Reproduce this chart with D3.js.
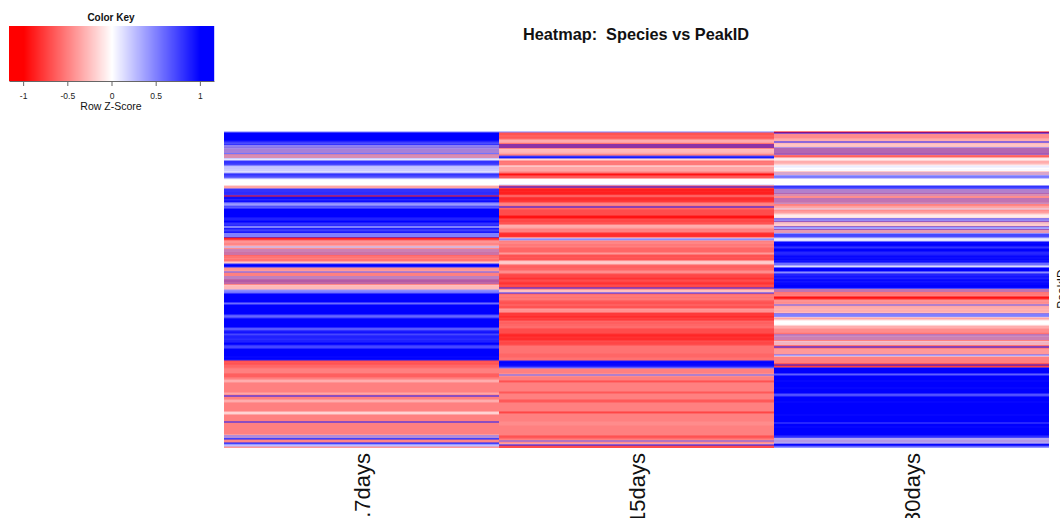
<!DOCTYPE html>
<html>
<head>
<meta charset="utf-8">
<script src="https://cdnjs.cloudflare.com/ajax/libs/d3/7.8.5/d3.min.js"></script>
<style>
html, body { margin: 0; padding: 0; background: #fff; overflow: hidden; }
text { font-family: "Liberation Sans", Arial, sans-serif; fill: #111; }
</style>
</head>
<body>
<div id="chart"></div>
<script>
const samples = [".7days", "15days", "30days"];
const keyTicks = [-1, -0.5, 0, 0.5, 1];

// row z-scores, one line per 20 rows, top to bottom
const days7 = [
.5,1,1,1,1,1,1,1,1,.9,.8,.7,.7,.9,-.1,.9,-.2,.7,-.3,.7,
-.3,.7,.4,-.6,.3,-.6,.3,.1,.1,.8,.8,.8,.75,.7,.3,.2,.25,.2,.2,.2,
.05,.4,.8,.8,.7,.7,.5,.1,0,0,0,0,0,0,-.3,-.4,-.3,.8,.8,.8,
.8,.85,.8,.8,-.9,.9,1,.9,.8,1,.9,.4,.5,.3,.7,.7,.6,1,1,1,
1,1,1,1,1,1,.85,.9,.85,1,1,.8,.8,.8,.9,.1,.9,.9,.7,.8,
.9,.9,.1,.9,.1,.9,-.8,-.9,-.6,-.45,-.4,-.45,-.5,-.45,-.3,.3,-.3,-.6,.4,-.6,
.4,-.7,.4,-.7,-.5,-.6,-.5,-.5,-.6,-.5,-.25,-.2,.8,1,1,.8,-.4,-.45,-.4,-.4,
.6,-.5,-.5,-.5,-.5,.5,-.5,.5,-.7,.6,-.7,.5,-.7,-.25,-.25,-.3,-.25,-.3,.4,.5,
.5,.6,1,1,1,1,1,1,1,1,1,.55,.6,1,1,1,1,1,1,1,
1,1,1,.7,.6,.6,.8,1,1,1,1,1,1,1,1,1,.7,.6,.7,.9,
.9,.95,.7,.75,.9,.85,.9,.8,.85,.9,.85,1,1,.9,.7,.75,.7,1,1,1,
1,1,1,1,1,.95,1,1,.9,-.7,-.65,-.65,-.7,-.6,-.6,-.6,-.55,-.5,-.5,-.5,
-.5,-.5,-.65,-.6,-.65,-.6,-.5,-.5,-.35,-.3,-.35,-.5,-.5,-.5,-.5,-.5,-.5,-.5,-.5,-.5,
-.5,-.35,-.35,-.5,.9,-.5,-.5,-.5,-.35,-.3,-.35,-.5,-.5,-.5,-.5,-.5,-.5,-.5,-.5,-.5,
-.2,-.15,-.2,-.5,-.5,-.5,-.5,-.5,-.5,-.5,.9,-.5,-.5,-.5,-.5,-.5,-.5,-.5,-.5,-.5,
-.5,-.5,-.5,-.3,.6,-.3,.6,.9,-.45,-.5,-.45,.9,.6,.2,.3,-.4
];
const days15 = [
.5,-.65,-.7,-.65,-.6,-.65,-.65,-.55,-.35,-.3,-.35,-.4,-.7,.9,-.7,.9,-.7,-.25,-.25,-.3,
-.25,-.35,-.35,-.6,.6,1,.8,-.15,-.15,-.55,-.55,-.5,-.55,-.5,-.1,-.35,-.35,-.35,-.35,-.35,
-.5,-.55,-.95,-.9,-.65,-.65,-.65,0,0,0,0,0,0,.2,-.7,.9,-.7,-.85,-.9,-.85,
-.85,-.9,-.85,-.75,-.5,-.75,-.8,-.85,-.8,-.8,-.75,-.5,-.5,-.45,-.6,.9,-.6,-.6,-.7,-.7,
-.7,-.7,-.7,-.7,-.9,-.95,-.9,-.7,-.7,-.75,-.7,-.65,-.7,-.35,-.3,-.35,-.35,-.5,-.5,-.5,
-.5,-.8,-.8,-.85,-.8,-.8,-.1,.6,.3,-.5,-.5,-.45,-.5,-.55,-.5,-.5,-.6,-.6,-.6,-.6,
-.6,-.4,-.4,-.65,-.7,-.65,-.65,-.7,-.65,-.25,-.2,-.2,-.25,-.6,-.6,-.65,-.6,-.6,-.6,-.45,
-.45,-.45,-.7,-.7,-.75,-.7,-.8,-.8,-.7,-.7,-.75,-.8,-.8,-.7,-.7,-.75,.8,-.6,-.25,-.25,
-.25,.8,-.6,-.55,-.5,-.55,-.55,-.5,-.55,-.65,-.65,-.7,-.65,-.6,-.65,-.7,-.65,-.4,-.4,-.45,
-.4,-.75,-.8,-.75,-.8,-.85,-.75,-.75,-.8,-.6,-.6,-.65,-.6,-.6,-.6,-.55,-.6,-.7,-.7,-.7,
-.7,-.7,-.8,-.85,-.85,-.8,-.8,-.85,-.8,-.7,-.7,-.75,-.7,-.7,-.55,-.55,-.55,-.55,-.55,-.55,
-.55,-.55,-.6,-.6,-.6,-.6,-.55,-.55,-.55,.9,1,1,.95,1,.9,.8,.5,-.5,-.5,-.5,
-.5,-.5,-.4,.6,-.4,-.5,-.5,-.5,-.5,-.7,-.65,-.5,-.5,-.5,-.5,-.5,-.5,-.5,-.5,-.5,
-.65,-.65,-.5,-.5,-.5,-.5,-.5,-.5,-.65,-.65,-.65,-.5,-.5,-.5,-.5,-.5,-.5,-.5,-.5,-.5,
-.75,-.7,-.5,-.5,-.5,-.5,-.5,-.5,-.5,-.5,-.45,-.45,-.45,-.45,-.5,-.5,-.5,-.5,-.5,-.5,
-.5,-.5,-.5,-.5,-.7,-.65,-.65,-.5,-.5,.6,-.5,-.4,-.35,.9,-.7,-.7
];
const days30 = [
-1,.9,-.45,-.45,-.45,-.45,-.45,-.3,-.35,-.3,.9,-.3,-.25,-.2,-.25,-.25,.6,-.6,.6,-.6,
.6,-.6,.7,-.5,-.65,-.6,-.1,-.1,-.05,-.3,-.35,-.3,-.25,-.1,.05,.1,0,0,.05,0,
-.4,.3,-.4,.3,.5,.55,.45,0,0,0,0,0,0,0,.8,.8,.7,.6,-.4,.6,
-.4,.6,-.6,.3,-.6,-.3,-.6,.5,-.6,.5,-.6,.4,-.5,-.5,-.45,-.3,-.4,.1,-.5,-.4,
-.4,-.35,-.2,-.1,-.05,-.1,-.15,.9,-.1,.8,-.5,.1,-.4,0,-.4,.8,0,.7,-.6,.2,
-.6,.2,.7,.75,.7,.7,.2,.1,.05,.2,1,.95,1,1,.95,.8,.8,1,1,1,
.85,.85,.85,.9,.95,1,.9,1,.95,.9,1,.6,.55,.6,.1,.2,1,1,1,1,
.4,.5,.9,.85,.9,.95,.85,.9,1,.95,.9,1,.95,1,1,1,.95,.5,-.6,.5,
-.6,-.5,-.55,-.5,-.5,-.95,-.9,-.8,-.45,-.4,-.45,-.45,-.4,.6,-.4,-.3,-.35,-.3,-.3,-.35,
-.3,-.25,.8,.2,.8,.1,-.4,-.3,-.15,0,0,0,0,-.05,-.3,-.35,-.3,-.45,-.45,-.45,
-.45,-.5,-.6,.5,-.5,.4,-.6,.4,-.6,-.4,.1,-.5,.1,-.5,-.6,.9,-.6,-.4,-.4,-.4,
-.4,-.4,-.4,.6,.1,-.5,-.5,-.5,-.5,-.5,-.5,-.5,-.8,.8,-.9,-.6,1,1,1,1,
1,1,.6,.65,1,1,1,1,1,.95,1,1,1,1,1,1,.95,1,1,1,
1,1,.7,.65,.75,1,1,1,1,1,.95,1,1,1,1,1,1,1,1,1,
1,1,1,.95,1,1,1,1,1,1,1,.7,1,1,1,.95,1,1,1,1,
1,1,1,1,.8,.85,.6,-.1,.6,-.2,.6,-.1,1,.95,.8,.4
];

const columns = [days7, days15, days30];
const rowIds = d3.range(days7.length);

const svg = d3.select("#chart").append("svg")
    .attr("width", 1060)
    .attr("height", 518)
    .style("display", "block");

const colorScale = d3.scaleLinear()
    .domain([-1, 0, 1])
    .range(["#ff0000", "#ffffff", "#0000ff"])
    .clamp(true);

// HEATMAP
const xScale = d3.scaleBand().domain(samples).range([224, 1049]);
// half pixel offset and a little overlap, so neighbouring rows mix the way the downsampled original does
const yScale = d3.scaleBand().domain(rowIds).range([131, 447]);
const rowOverlap = 0.5;

const heat = svg.append("g").attr("transform", "translate(0,0.5)");

samples.forEach(function(sample, i) {
    heat.append("g").selectAll("rect")
        .data(columns[i])
        .enter()
        .append("rect")
        .attr("x", xScale(sample))
        .attr("y", (d, r) => yScale(r))
        .attr("width", xScale.bandwidth())
        .attr("height", yScale.bandwidth() + rowOverlap)
        .attr("fill", d => colorScale(d));
});

svg.append("g").selectAll("text")
    .data(samples)
    .enter()
    .append("text")
    .attr("transform", d => `translate(${xScale(d) + xScale.bandwidth() / 2 + 8},453) rotate(-90)`)
    .attr("text-anchor", "end")
    .style("font-size", "22px")
    .text(d => d);

// clipped off at the right edge of the picture
svg.append("text")
    .attr("transform", "translate(1066,289) rotate(-90)")
    .attr("text-anchor", "middle")
    .style("font-size", "12px")
    .text("PeakID");

svg.append("text")
    .attr("x", 636)
    .attr("y", 40)
    .attr("text-anchor", "middle")
    .attr("xml:space", "preserve")
    .style("white-space", "pre")
    .style("font-size", "16.3px")
    .style("font-weight", "bold")
    .text("Heatmap:  Species vs PeakID");

// COLOR KEY
const keyScale = d3.scaleLinear().domain([-1.16, 1.16]).range([9, 214]);
const keyValues = d3.range(keyScale.range()[0], keyScale.range()[1]).map(px => keyScale.invert(px));

const key = svg.append("g");

key.append("g").selectAll("rect")
    .data(keyValues)
    .enter()
    .append("rect")
    .attr("x", d => keyScale(d))
    .attr("y", 26)
    .attr("width", 1.2)
    .attr("height", 55)
    .attr("fill", d => colorScale(d));

const keyAxis = d3.axisBottom(keyScale)
    .tickValues(keyTicks)
    .tickFormat(d => d)
    .tickSizeInner(5)
    .tickSizeOuter(0)
    .tickPadding(7);

key.append("g")
    .attr("transform", "translate(0,81)")
    .call(keyAxis)
    .call(g => g.select(".domain").attr("stroke", "#666"))
    .call(g => g.selectAll("line").attr("stroke", "#666"))
    .call(g => g.selectAll("text").style("font-size", "8.5px").style("fill", "#222"));

key.append("text")
    .attr("x", 111)
    .attr("y", 21)
    .attr("text-anchor", "middle")
    .style("font-size", "10px")
    .style("font-weight", "bold")
    .text("Color Key");

key.append("text")
    .attr("x", 111)
    .attr("y", 110)
    .attr("text-anchor", "middle")
    .style("font-size", "10.5px")
    .text("Row Z-Score");
</script>
</body>
</html>
